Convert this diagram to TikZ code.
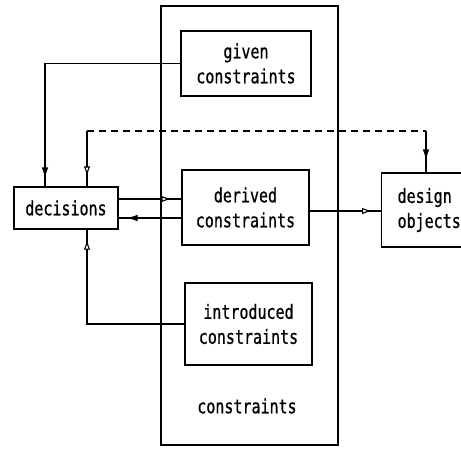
\documentclass[tikz,border=0pt]{standalone}
\usepackage{fontspec}
\newfontfamily\tfont[FakeBold=0.8]{DejaVu Sans Mono}
\usetikzlibrary{arrows.meta}
\newcommand{\stx}[1]{\scalebox{1}[1.3]{#1}}
\tikzset{
  box/.style={draw, line width=1.2pt, inner sep=0pt, align=center,
    font=\tfont\fontsize{15}{25}\selectfont},
  lbl/.style={inner sep=0pt, align=center, font=\tfont\fontsize{15}{25}\selectfont},
  conn/.style={line width=1.2pt},
  ftip/.style={line width=1.2pt, -{Latex[length=11pt,width=6.5pt]}},
  otip/.style={line width=1.1pt, -{Latex[length=10pt,width=6.5pt,fill=white]}},
}
\begin{document}
\begin{tikzpicture}[x=1pt,y=-1pt]
\useasboundingbox (0,0) rectangle (461,448);
\clip (0,0) rectangle (461,448);
% outer constraints box
\node[box, minimum width=177pt, minimum height=439pt] (outer) at (249.5,225.5) {};
\node[lbl] (clabel) at (247,406) {\stx{constraints}};
% inner boxes
\node[box, minimum width=130pt, minimum height=65pt] (given) at (246,63.5) {\stx{given}\\\stx{constraints}};
\node[box, minimum width=127pt, minimum height=75pt] (derived) at (245.5,207.5) {\stx{derived}\\\stx{constraints}};
\node[box, minimum width=127pt, minimum height=82pt] (introduced) at (248.5,324) {\stx{introduced}\\\stx{constraints}};
\node[box, minimum width=104pt, minimum height=42pt] (decisions) at (66,208) {\stx{decisions}};
\node[box, minimum height=74pt, text width=66pt, inner xsep=16pt, align=left, anchor=west] (design) at (381,210) {\stx{design}\\\stx{objects}};
% helper coordinates
\coordinate (gx) at (45,63);
\coordinate (dL) at (87,131);
\coordinate (dR) at (426,131);
\coordinate (ix) at (87,0);
\coordinate (p1) at (gx |- decisions.north);
\coordinate (p2) at (dL |- decisions.north);
\coordinate (p3) at (dR |- design.north);
\coordinate (p4) at ([yshift=9pt]decisions.east -| derived.west);
\coordinate (p5) at ([yshift=-10pt]decisions.east);
\coordinate (p6) at ([yshift=-3.5pt]derived.east -| design.west);
\coordinate (p7) at (ix |- decisions.south);
% connectors
\draw[conn] (given.west) -- (given.west -| gx) -- (p1);
\draw[conn, dashed, dash pattern=on 7pt off 5pt] (dL) -- (dR);
\draw[conn] (dL) -- (p2);
\draw[conn] (dR) -- (p3);
\draw[conn] ([yshift=9pt]decisions.east) -- (p4);
\draw[conn] ([yshift=-10pt]decisions.east -| derived.west) -- (p5);
\draw[conn] ([yshift=-3.5pt]derived.east) -- (p6);
\draw[conn] (introduced.west) -- (introduced.west -| ix) -- (p7);
% arrow heads placed a little before the targets
\draw[ftip] ([yshift=22pt]p1) -- ([yshift=8pt]p1);
\draw[otip] ([yshift=24pt]p2) -- ([yshift=10pt]p2);
\draw[ftip] ([yshift=26pt]p3) -- ([yshift=12pt]p3);
\draw[otip] ([xshift=-24pt]p4) -- ([xshift=-10pt]p4);
\draw[ftip] ([xshift=22pt]p5) -- ([xshift=8pt]p5);
\draw[otip] ([xshift=-23pt]p6) -- ([xshift=-9pt]p6);
\draw[otip] ([yshift=-24pt]p7) -- ([yshift=-10pt]p7);
\end{tikzpicture}
\end{document}
